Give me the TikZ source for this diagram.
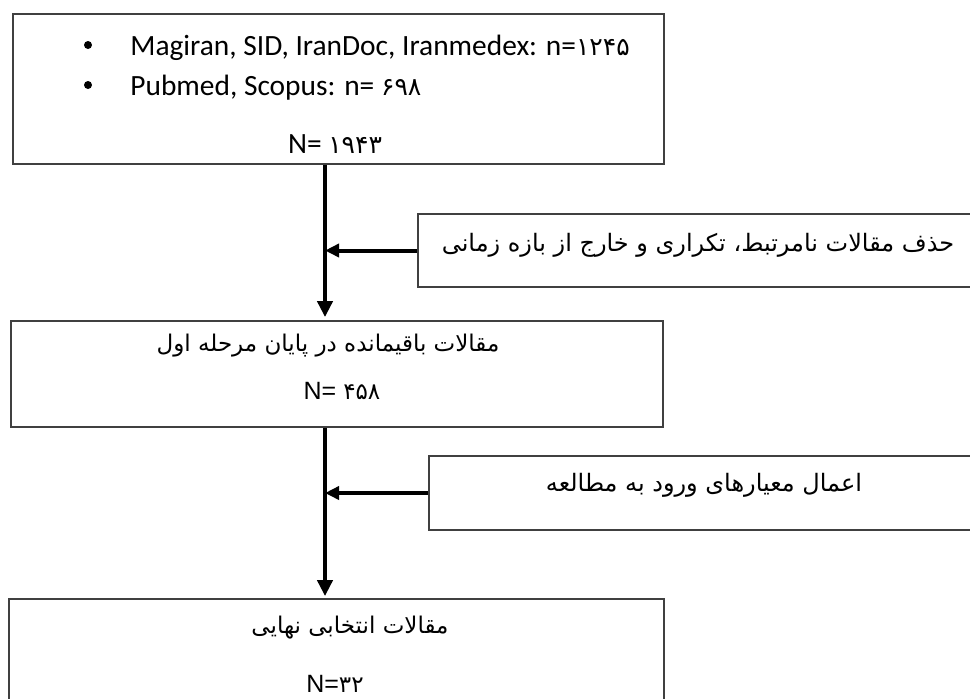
\documentclass[tikz,border=0pt]{standalone}
\usepackage{fontspec}
\setmainfont{Carlito}
\newfontfamily\arabicfont[Script=Arabic]{DejaVu Sans}
\newfontfamily\arialfont{Liberation Sans}
\TeXXeTstate=1
\usetikzlibrary{arrows.meta}
\begin{document}
\begin{tikzpicture}[x=0.5pt,y=-0.5pt,
  box/.style={draw=black!75, line width=0.9pt, inner sep=0pt},
  conn/.style={line width=2pt, -{Triangle[length=8pt,width=7.5pt]}},
  sideconn/.style={line width=2pt, -{Triangle[length=7pt,width=6.5pt]}},
  txt/.style={inner sep=0pt, font=\fontsize{14.7}{17}\selectfont},
  ptxt/.style={inner sep=0pt, font=\fontsize{11.5}{14}\selectfont},
  sptxt/.style={inner sep=0pt, font=\fontsize{12}{14}\selectfont}]
\useasboundingbox (0,0) rectangle (970,698);
\clip (0,0) rectangle (970,698);
\fill[white] (0,0) rectangle (970,698);
\coordinate (spine) at (325,0);
% boxes
\node[box, minimum width=325.5pt, minimum height=75pt] (top) at (338.5,89) {};
\node[box, minimum width=326pt, minimum height=53pt] (mid) at (337,374) {};
\node[box, minimum width=327.5pt, minimum height=80.5pt] (fin) at (336.5,679.5) {};
\node[box, minimum width=291pt, minimum height=36.5pt] (s1) at (709,250.5) {};
\node[box, minimum width=285.5pt, minimum height=37pt] (s2) at (714.5,493) {};
% top box text
\fill (88,45) circle (4);
\fill (88,85) circle (4);
\node[txt, anchor=base west] (l1) at (130,55) {Magiran, SID, IranDoc, Iranmedex: n={\arabicfont\fontsize{12.5}{15}\selectfont ۱۲۴۵}};
\node[txt, anchor=base west] (l2) at (130,95) {Pubmed, Scopus: n= {\arabicfont\fontsize{12.5}{15}\selectfont ۶۹۸}};
\node[txt, anchor=base] (n1) at (335,153) {N= {\arabicfont\fontsize{12.5}{15}\selectfont ۱۹۴۳}};
% middle box text
\node[ptxt] (t2) at (328,346) {\arabicfont\beginR مقالات باقیمانده در پایان مرحله اول\endR};
\node[ptxt] (n2) at (342,391) {{\arialfont\fontsize{12.5}{14}\selectfont N= }{\arabicfont ۴۵۸}};
% final box text
\node[ptxt] (t3) at (350,628) {\arabicfont\beginR مقالات انتخابی نهایی\endR};
\node[ptxt] (n3) at (335,684) {{\arialfont\fontsize{12.5}{14}\selectfont N=}{\arabicfont ۳۲}};
% side texts
\node[sptxt] (t4) at (698,245) {\arabicfont\beginR حذف مقالات نامرتبط، تکراری و خارج از بازه زمانی\endR};
\node[sptxt] (t5) at (704,485) {\arabicfont\beginR اعمال معیارهای ورود به مطالعه\endR};
% connectors
\draw[conn, shorten >=1.5pt] (top.south -| spine) -- (mid.north -| spine);
\draw[conn, shorten >=1pt] (mid.south -| spine) -- (fin.north -| spine);
\draw[sideconn] (s1.west) -- (s1.west -| spine);
\draw[sideconn] (s2.west) -- (s2.west -| spine);
\end{tikzpicture}
\end{document}
